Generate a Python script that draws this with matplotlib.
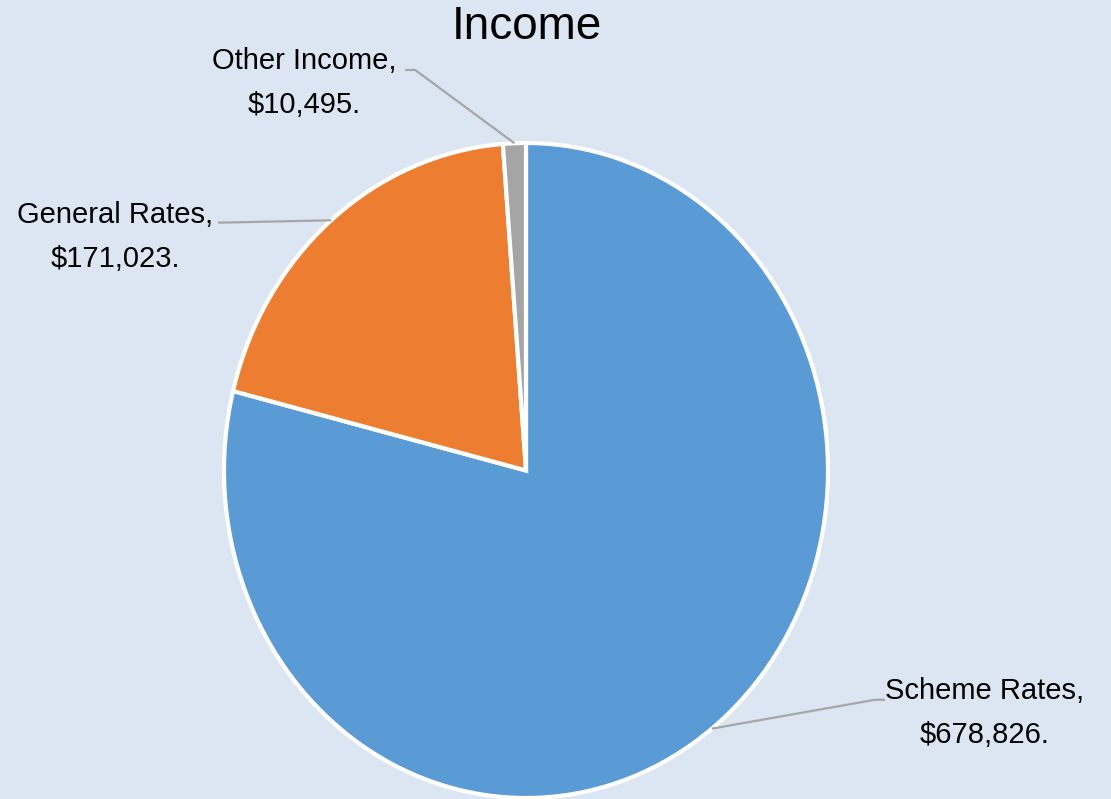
import numpy as np
import matplotlib.pyplot as plt

# Income breakdown
labels = ["Scheme Rates", "General Rates", "Other Income"]
values = [678826, 171023, 10495]
colors = ["#5B9BD5", "#ED7D31", "#A5A5A5"]

plt.rcParams['font.family'] = ['Liberation Sans Narrow', 'Liberation Sans', 'DejaVu Sans']

bg = "#DCE6F2"
fig = plt.figure(figsize=(11.11, 7.99), dpi=100, facecolor=bg)
ax = fig.add_axes([224 / 1111, 1 / 799, 604 / 1111, 655 / 799])
ax.set_facecolor(bg)

wedges, _ = ax.pie(values, colors=colors, startangle=90, counterclock=False,
                   wedgeprops=dict(edgecolor="white", linewidth=3))
ax.set_aspect('auto')
ax.set_xlim(-1, 1)
ax.set_ylim(-1, 1)
ax.axis('off')

# label placement: text centre, elbow of leader, end of leader (data units)
text_pos = [(1.52, -0.74), (-1.36, 0.713), (-0.735, 1.183)]
elbows = [(1.156, -0.700), (-1.00, 0.757), (-0.367, 1.223)]
ends = [(1.189, -0.700), (-1.02, 0.757), (-0.400, 1.223)]

for w, lab, val, tp, el, en in zip(wedges, labels, values, text_pos, elbows, ends):
    ang = np.deg2rad((w.theta1 + w.theta2) / 2)
    x0, y0 = np.cos(ang), np.sin(ang)
    ax.plot([x0, el[0], en[0]], [y0, el[1], en[1]], color="#A6A6A6", lw=1.6,
            clip_on=False, solid_capstyle='butt')
    ax.text(tp[0], tp[1], f"{lab},\n${val:,}.", ha='center', va='center',
            fontsize=21, linespacing=1.7, color="black")

fig.text(527 / 1111, 1 - 27 / 799, "Income", ha='center', va='center', fontsize=33, color="black")

fig.savefig("out.png", dpi=100, facecolor=bg)
